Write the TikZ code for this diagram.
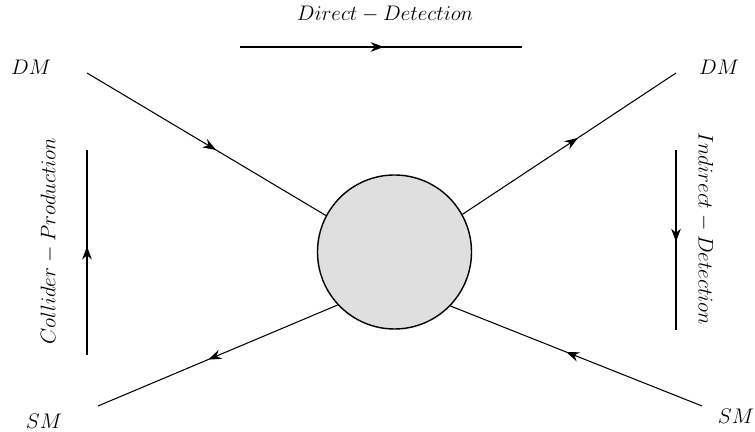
\documentclass[tikz,border=0pt]{standalone}
\usepackage{amsmath,amssymb}
\usepackage{xcolor}
\usepackage{tikz}
\usetikzlibrary{arrows.meta, positioning, decorations.markings}

\begin{document}
\begin{tikzpicture}[
    fermion/.style={semithick, postaction={decorate},
                    decoration={markings, mark=at position #1 with {\arrow{Stealth[length=7.5pt,width=5.5pt]}}}},
    fermion/.default=0.54,
    blob/.style={circle, draw, line width=0.8pt, fill=gray!25, minimum size=3.08cm, inner sep=0pt},
    lbl/.style={inner sep=0pt, font=\fontsize{12.5}{15}\selectfont}
  ]
    \useasboundingbox (0,0) rectangle (15.1,8.64);

    % external legs
    \node[blob] (vtx) at (7.89,3.60) {};
    \coordinate (dmin)  at (1.74,7.18);
    \coordinate (dmout) at (13.52,7.18);
    \coordinate (smout) at (1.96,0.52);
    \coordinate (smin)  at (14.04,0.52);

    \node[lbl] (dmL) at (0.62,7.30) {$DM$};
    \node[lbl] (dmR) at (14.38,7.30) {$DM$};
    \node[lbl] (smL) at (0.88,0.22) {$SM$};
    \node[lbl] (smR) at (14.72,0.32) {$SM$};

    \draw[fermion] (dmin) -- (vtx.152);
    \draw[fermion] (vtx.29) -- (dmout);
    \draw[fermion] (vtx.223) -- (smout);
    \draw[fermion] (smin) -- (vtx.316);

    % channel arrows
    \node[lbl] (dd) at (7.70,8.36) {$Direct - Detection$};
    \coordinate (ddA) at (4.80,7.70);
    \coordinate (ddB) at (10.44,7.70);
    \draw[fermion=0.51] (ddA) -- (ddB);

    \node[lbl, rotate=90] (cp) at (0.98,3.82) {$Collider - Production$};
    \coordinate (cpA) at (1.74,1.54);
    \coordinate (cpB) at (1.74,5.64);
    \draw[fermion=0.53] (cpA) -- (cpB);

    \node[lbl, rotate=-90] (id) at (14.10,4.06) {$Indirect - Detection$};
    \coordinate (idA) at (13.52,5.64);
    \coordinate (idB) at (13.52,2.04);
    \draw[fermion=0.51] (idA) -- (idB);
  \end{tikzpicture}
\end{document}
